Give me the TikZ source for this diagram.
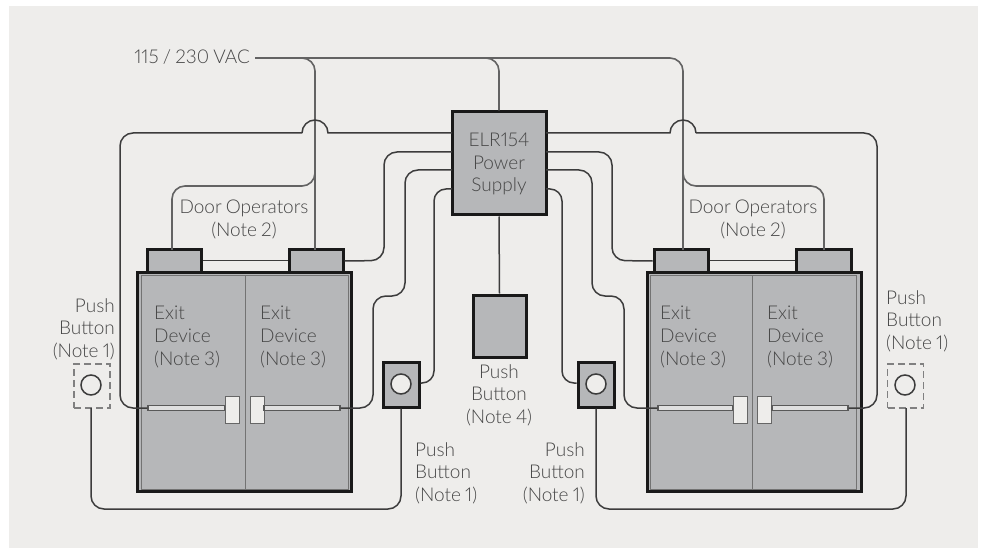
\documentclass[tikz,border=0pt]{standalone}
\usepackage{fontspec}
\setmainfont[UprightFont={* Light},Numbers=Proportional,WordSpace=0.8]{Lato}
\usetikzlibrary{positioning}
\definecolor{panel}{HTML}{EEEDEB}
\definecolor{doorgray}{HTML}{B6B7B9}
\definecolor{wirec}{HTML}{3C3C3C}
\definecolor{textc}{HTML}{474747}
\begin{document}
\begin{tikzpicture}[x=1pt,y=-1pt,
	wire/.style={draw=wirec,line width=1.5pt,rounded corners=13pt},
	gwire/.style={draw=wirec!80,line width=1.6pt,rounded corners=13pt},
	hop/.style={draw=wirec,line width=1.5pt},
	box/.style={draw=black!90,line width=3pt,fill=doorgray,minimum width=#1,inner sep=0},
	lbl/.style={text=textc,font=\fontsize{19}{22.6}\selectfont,inner sep=0,align=#1},
	hand/.style={draw=black!60,line width=1pt,fill=panel,inner sep=0,minimum width=14pt,minimum height=27pt},
	barr/.style={draw=black!65,line width=1.2pt,fill=black!12,inner sep=0,minimum height=5pt},
	knob/.style={draw=wirec,line width=1.5pt,fill=panel,circle,inner sep=0,minimum size=20pt},
	dbox/.style={draw=black!50,line width=1.3pt,dashed,dash pattern=on 7pt off 4pt,inner sep=0,minimum width=36pt,minimum height=44pt}]
	\useasboundingbox (0,0) rectangle (988,548);
	\fill [panel] (9,6) rectangle (978,548);

	% free ends of the wires
	\coordinate (vac) at (255,58);
	\coordinate (tapl) at (315,172);
	\coordinate (tapr) at (683,172);
	\coordinate (hla) at (328,133);
	\coordinate (hlb) at (302,133);
	\coordinate (hra) at (670,133);
	\coordinate (hrb) at (696,133);

	% supply and centre button
	\node [box=94pt,minimum height=103pt] (psu) at (499,163.5) {};
	\node [box=53pt,minimum height=62pt] (pbc) at (499.5,326) {};

	% doors
	\node [box=214pt,minimum height=219pt] (dl) at (244,381.5) {};
	\node [box=214pt,minimum height=219pt] (dr) at (754,381.5) {};
	\node [box=54pt,minimum height=22pt] (opa) at (174,261) {};
	\node [box=54pt,minimum height=22pt] (opb) at (316,261) {};
	\node [box=54pt,minimum height=22pt] (opc) at (681,261) {};
	\node [box=55pt,minimum height=22pt] (opd) at (823.5,261) {};
	\draw [black!55,line width=1pt] (141.5,275) rectangle (348,489);
	\draw [black!55,line width=1pt] (650.5,275) rectangle (856.5,489);
	\draw [black!55,line width=1pt] (245,275)--(245,489);
	\draw [black!55,line width=1pt] (752,275)--(752,489);

	% push bars
	\node [barr,minimum width=77pt] (ba) at (186.5,408) {};
	\node [hand] (ha) at (232,409.5) {};
	\node [hand] (hb) at (257,409.5) {};
	\node [barr,minimum width=76pt] (bb) at (302,408) {};
	\node [barr,minimum width=75pt] (bc) at (695.5,408) {};
	\node [hand] (hc) at (740,409.5) {};
	\node [hand] (hd) at (764.5,409.5) {};
	\node [barr,minimum width=76pt] (bd) at (810,408) {};

	% buttons
	\node [box=36pt,minimum height=45pt] (pbl) at (401,384.5) {};
	\node [box=36pt,minimum height=45pt] (pbr) at (596,384.5) {};
	\node [dbox] (pdl) at (92,386) {};
	\node [dbox] (pdr) at (905.5,386) {};
	\node [knob] (kl) at (401,384) {};
	\node [knob] (kr) at (596,384) {};
	\node [knob] (kdl) at (91,385) {};
	\node [knob] (kdr) at (905,385) {};

	% mains
	\draw [gwire] (vac)--(499,58)--(psu.north);
	\draw [gwire] (vac)--(315,58)--(315,250);
	\draw [gwire] (vac)--(683,58)--(683,250);
	\draw [gwire] (tapl)--(315,186)--(172,186)--(172,250);
	\draw [gwire] (tapr)--(683,186)--(824,186)--(824,250);
	\draw [wire] (psu.south)--(pbc.north);

	% supply to exit devices, over the mains
	\draw [hop] (452,133)--(hla) arc (0:180:13pt);
	\draw [wire] (hlb)--(120,133)--(120,408)--(ba.west);
	\draw [hop] (546,133)--(hra) arc (180:0:13pt);
	\draw [wire] (hrb)--(877,133)--(877,408)--(bd.east);
	\draw [wire] (452,152)--(384,152)--(384,260.5)--(opb.east);
	\draw [wire] (546,152)--(612,152)--(612,260.5)--(opc.west);
	\draw [wire] (opa.east |- 0,260.5)--(opb.west |- 0,260.5);
	\draw [wire] (opc.east |- 0,260.5)--(opd.west |- 0,260.5);
	\draw [wire] (452,170)--(405,170)--(405,296)--(373,296)--(373,408)--(bb.east);
	\draw [wire] (546,170)--(592,170)--(592,296)--(624,296)--(624,408)--(bc.west);
	\draw [wire,rounded corners=12pt] (452,189)--(434,189)--(434,383)--(pbl.east |- 0,383);
	\draw [wire,rounded corners=12pt] (546,189)--(562,189)--(562,383)--(pbr.west |- 0,383);

	% buttons joined under the doors
	\draw [wire] (pbl.south)--(401,509)--(91,509)--(91,408);
	\draw [wire] (pbr.south)--(596,509)--(906,509)--(906,408);

	% labels
	\node [lbl=right,anchor=east] (tvac) at (250,57) {115 / 230 VAC};
	\node [lbl=center] (tpsu) at (499,164) {ELR154\\Power\\Supply};
	\node [lbl=center] (tpbc) at (499,395) {Push\\Button\\(Note 4)};
	\node [lbl=center] (topl) at (244,219.5) {Door Operators\\(Note 2)};
	\node [lbl=center] (topr) at (753,219.5) {Door Operators\\(Note 2)};
	\node [lbl=left,anchor=west] (tea) at (154,337) {Exit\\Device\\(Note 3)};
	\node [lbl=left,anchor=west] (teb) at (260,337) {Exit\\Device\\(Note 3)};
	\node [lbl=left,anchor=west] (tec) at (660,337) {Exit\\Device\\(Note 3)};
	\node [lbl=left,anchor=west] (ted) at (767,337) {Exit\\Device\\(Note 3)};
	\node [lbl=right,anchor=east] (tpa) at (115,329) {Push\\Button\\(Note 1)};
	\node [lbl=left,anchor=west] (tpb) at (886,321) {Push\\Button\\(Note 1)};
	\node [lbl=left,anchor=west] (tpc) at (415,473) {Push\\Button\\(Note 1)};
	\node [lbl=right,anchor=east] (tpd) at (585,473) {Push\\Button\\(Note 1)};
\end{tikzpicture}
\end{document}
